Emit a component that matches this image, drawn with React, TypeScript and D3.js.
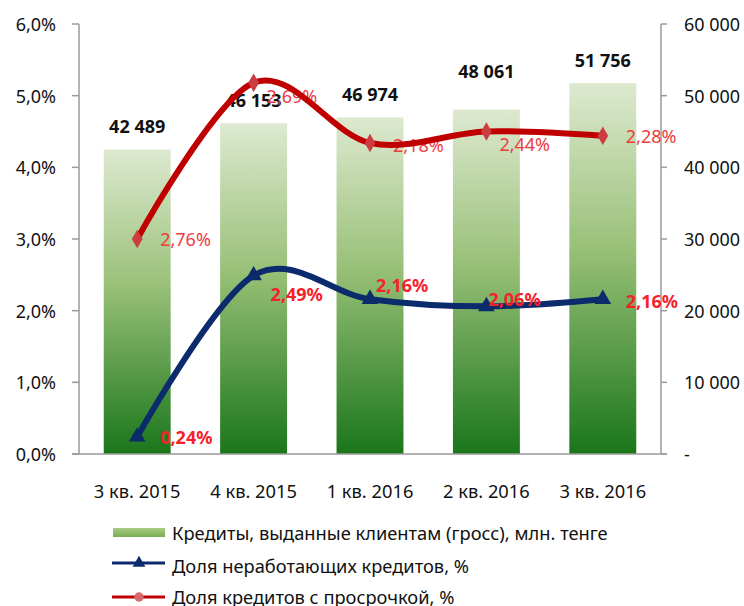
import React from "react";
import * as d3 from "d3";

const categories = ["3 кв. 2015", "4 кв. 2015", "1 кв. 2016", "2 кв. 2016", "3 кв. 2016"];
const loans = [42489, 46153, 46974, 48061, 51756];
const nplShare = [0.24, 2.49, 2.16, 2.06, 2.16];
const overdueShare = [2.76, 2.69, 2.18, 2.44, 2.28];
const leftTicks = [0, 1, 2, 3, 4, 5, 6];
const rightTicks = [0, 10000, 20000, 30000, 40000, 50000, 60000];
const legendLabels = [
  "Кредиты, выданные клиентам (гросс), млн. тенге",
  "Доля неработающих кредитов, %",
  "Доля кредитов с просрочкой, %",
];

const W = 744;
const H = 606;
const FONT = "'Noto Sans', 'DejaVu Sans', sans-serif";

const loc = d3.formatLocale({
  decimal: ",",
  thousands: "\u00a0",
  grouping: [3],
  currency: ["", ""],
});
const fmtPct1 = (v: number) => loc.format(".1f")(v) + "%";
const fmtPct2 = (v: number) => loc.format(".2f")(v) + "%";
const fmtInt = (v: number) => (v === 0 ? "-" : loc.format(",d")(v));

export default function App() {
  const left = 79;
  const right = 661;
  const top = 24;
  const bottom = 454;

  const x = d3
    .scaleBand<string>()
    .domain(categories)
    .range([left, right])
    .paddingInner(0.425)
    .paddingOuter(0.2125);
  const cx = (c: string) => (x(c) as number) + x.bandwidth() / 2;
  const yL = d3.scaleLinear().domain([0, 6]).range([bottom, top]);
  const yR = d3.scaleLinear().domain([0, 60000]).range([bottom, top]);

  const rows = categories.map((c, i) => ({ cat: c, npl: nplShare[i], overdue: overdueShare[i] }));
  const stacked = d3.stack<any>().keys(["npl", "overdue"])(rows);
  const nplPts = stacked[0].map((d, i) => [cx(categories[i]), yL(d[1])] as [number, number]);
  const ovPts = stacked[1].map((d, i) => [cx(categories[i]), yL(d[1])] as [number, number]);

  const line = d3.line<[number, number]>().curve(d3.curveCatmullRom.alpha(0));

  const barLabelLift = [23, 23, 23, 39, 23];
  const nplLabelOff = [[23, 0], [17, 18], [6, -14], [2, -7], [23, 2]];
  const ovLabelOff = [[23, 0], [13, 13], [23, 2], [13, 12], [23, 0]];

  const tri = d3.symbol().type(d3.symbolTriangle).size(120)() as string;
  const dia = d3.symbol().type(d3.symbolDiamond).size(100)() as string;
  const dot = d3.symbol().type(d3.symbolCircle).size(70)() as string;

  const axisColor = "#9a9a9a";
  const red = "#C00000";
  const navy = "#0C2B6C";
  const fs = 18.3;

  return (
    <svg
      width={W}
      height={H}
      style={{ position: "absolute", left: 0, top: 0, background: "#fff" }}
      fontFamily={FONT}
    >
      <defs>
        <linearGradient id="barGrad" x1="0" y1="0" x2="0" y2="1">
          <stop offset="0" stopColor="#dde9d0" />
          <stop offset="0.45" stopColor="#98c077" />
          <stop offset="1" stopColor="#1a761a" />
        </linearGradient>
        <linearGradient id="legGrad" x1="0" y1="0" x2="0" y2="1">
          <stop offset="0" stopColor="#a9cd85" />
          <stop offset="1" stopColor="#78ad52" />
        </linearGradient>
      </defs>

      {/* bars */}
      {categories.map((c, i) => (
        <rect
          key={c}
          x={x(c)}
          y={yR(loans[i])}
          width={x.bandwidth()}
          height={bottom - yR(loans[i])}
          fill="url(#barGrad)"
        />
      ))}

      {/* axes */}
      <line x1={left} x2={left} y1={top} y2={bottom} stroke={axisColor} strokeWidth={1.5} />
      <line x1={right} x2={right} y1={top} y2={bottom} stroke={axisColor} strokeWidth={1.5} />
      <line x1={left - 7} x2={right + 6} y1={bottom} y2={bottom} stroke={axisColor} strokeWidth={1.5} />
      {leftTicks.map((t) => (
        <g key={"l" + t}>
          <line x1={left - 7} x2={left} y1={yL(t)} y2={yL(t)} stroke={axisColor} strokeWidth={1.5} />
          <text x={56} y={yL(t)} textAnchor="end" dominantBaseline="central" fontSize={18} fill="#111">
            {fmtPct1(t)}
          </text>
        </g>
      ))}
      {rightTicks.map((t) => (
        <g key={"r" + t}>
          <line x1={right} x2={right + 6} y1={yR(t)} y2={yR(t)} stroke={axisColor} strokeWidth={1.5} />
          <text x={684} y={yR(t)} textAnchor="start" dominantBaseline="central" fontSize={18} fill="#111">
            {fmtInt(t)}
          </text>
        </g>
      ))}
      {categories.map((c) => (
        <text key={"x" + c} x={cx(c)} y={490} textAnchor="middle" dominantBaseline="central" fontSize={fs} fill="#111">
          {c}
        </text>
      ))}

      {/* bar labels */}
      {categories.map((c, i) => (
        <text
          key={"bl" + c}
          x={cx(c)}
          y={yR(loans[i]) - barLabelLift[i]}
          textAnchor="middle"
          dominantBaseline="central"
          fontSize={18}
          fontWeight="bold"
          fill="#111"
        >
          {fmtInt(loans[i])}
        </text>
      ))}

      {/* overdue labels (under line) */}
      {ovPts.map((p, i) => (
        <text
          key={"ol" + i}
          x={p[0] + ovLabelOff[i][0]}
          y={p[1] + ovLabelOff[i][1]}
          dominantBaseline="central"
          fontSize={18}
          fill="#EE3B40"
        >
          {fmtPct2(overdueShare[i])}
        </text>
      ))}

      {/* overdue line */}
      <path d={line(ovPts) as string} fill="none" stroke={red} strokeWidth={6} strokeLinecap="round" />
      {ovPts.map((p, i) => (
        <path key={"om" + i} d={dia} transform={`translate(${p[0]},${p[1]})`} fill="#CC3C40" />
      ))}

      {/* npl line */}
      <path d={line(nplPts) as string} fill="none" stroke={navy} strokeWidth={6} strokeLinecap="round" />
      {nplPts.map((p, i) => (
        <path key={"nm" + i} d={tri} transform={`translate(${p[0]},${p[1]})`} fill={navy} />
      ))}
      {nplPts.map((p, i) => (
        <text
          key={"nl" + i}
          x={p[0] + nplLabelOff[i][0]}
          y={p[1] + nplLabelOff[i][1]}
          dominantBaseline="central"
          fontSize={18}
          fontWeight="bold"
          fill="#F5222A"
        >
          {fmtPct2(nplShare[i])}
        </text>
      ))}

      {/* legend */}
      <rect x={113} y={528} width={52} height={9} fill="url(#legGrad)" />
      <text x={172} y={532} dominantBaseline="central" fontSize={fs} fill="#111">
        {legendLabels[0]}
      </text>
      <line x1={112} x2={165} y1={563} y2={563} stroke={navy} strokeWidth={3} />
      <path d={d3.symbol().type(d3.symbolTriangle).size(70)() as string} transform="translate(139,563)" fill={navy} />
      <text x={172} y={565} dominantBaseline="central" fontSize={fs} fill="#111">
        {legendLabels[1]}
      </text>
      <line x1={112} x2={165} y1={597} y2={597} stroke={red} strokeWidth={3} />
      <path d={dot} transform="translate(139,597)" fill="#D9686B" />
      <text x={172} y={596} dominantBaseline="central" fontSize={fs} fill="#111">
        {legendLabels[2]}
      </text>
    </svg>
  );
}
